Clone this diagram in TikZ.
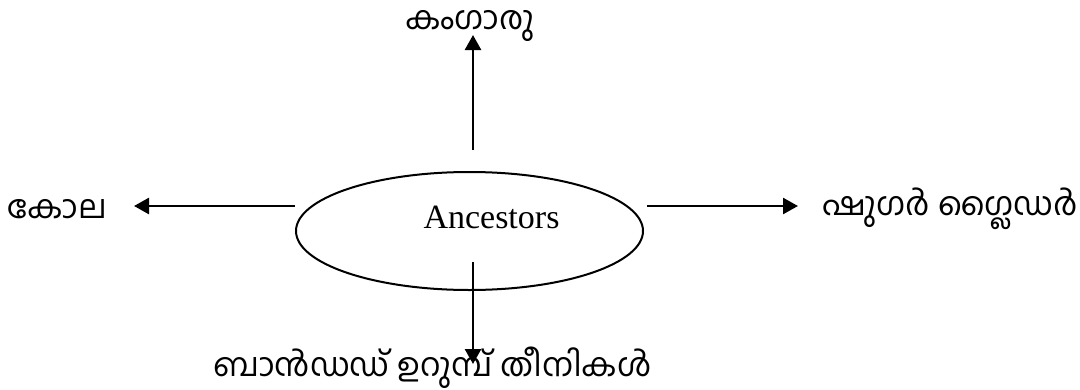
\documentclass[tikz,border=0pt]{standalone}
\usepackage{fontspec}
\setmainfont{Liberation Serif}
\newfontfamily\mlfont[Script=Malayalam]{Hind Kochi}
\usetikzlibrary{arrows.meta,shapes.geometric}

\tikzset{
  label ml/.style={font=\mlfont\fontsize{32.5}{38}\selectfont, inner sep=0pt},
  link/.style={line width=2.5pt, -{Triangle[length=15pt,width=16pt]}},
  hub/.style={draw, line width=2pt, ellipse, minimum width=347pt, minimum height=118pt, inner sep=0pt}
}

\begin{document}
\begin{tikzpicture}[x=1pt,y=-1pt]
  \useasboundingbox (0,0) rectangle (1080,389);

  % central ellipse and its caption
  \node[hub] (hub) at (469.5,231) {};
  \node[font=\fontsize{34}{40}\selectfont, inner sep=0pt, anchor=base] (cap) at (491.5,228) {Ancestors};

  % arrow start and end points
  \coordinate (uS) at (473,150);
  \coordinate (uE) at (473,35);
  \coordinate (lS) at (295,206);
  \coordinate (lE) at (134,206);
  \coordinate (rS) at (647,206);
  \coordinate (rE) at (798,206);
  \coordinate (dS) at (473,262);
  \coordinate (dE) at (473,364);

  % labels
  \node[label ml] (kangaroo) at (470,26) {കംഗാരു};
  \node[label ml] (koala) at (57,209) {കോല};
  \node[label ml] (glider) at (950,209) {ഷുഗർ ഗ്ലൈഡർ};
  \node[label ml, text depth=0pt, anchor=base] (anteater) at (432.5,376) {ബാൻഡഡ് ഉറുമ്പ് തീനികൾ};

  % arrows
  \draw[link] (uS) -- (uE);
  \draw[link] (lS) -- (lE);
  \draw[link] (rS) -- (rE);
  \draw[link] (dS) -- (dE);
\end{tikzpicture}
\end{document}
